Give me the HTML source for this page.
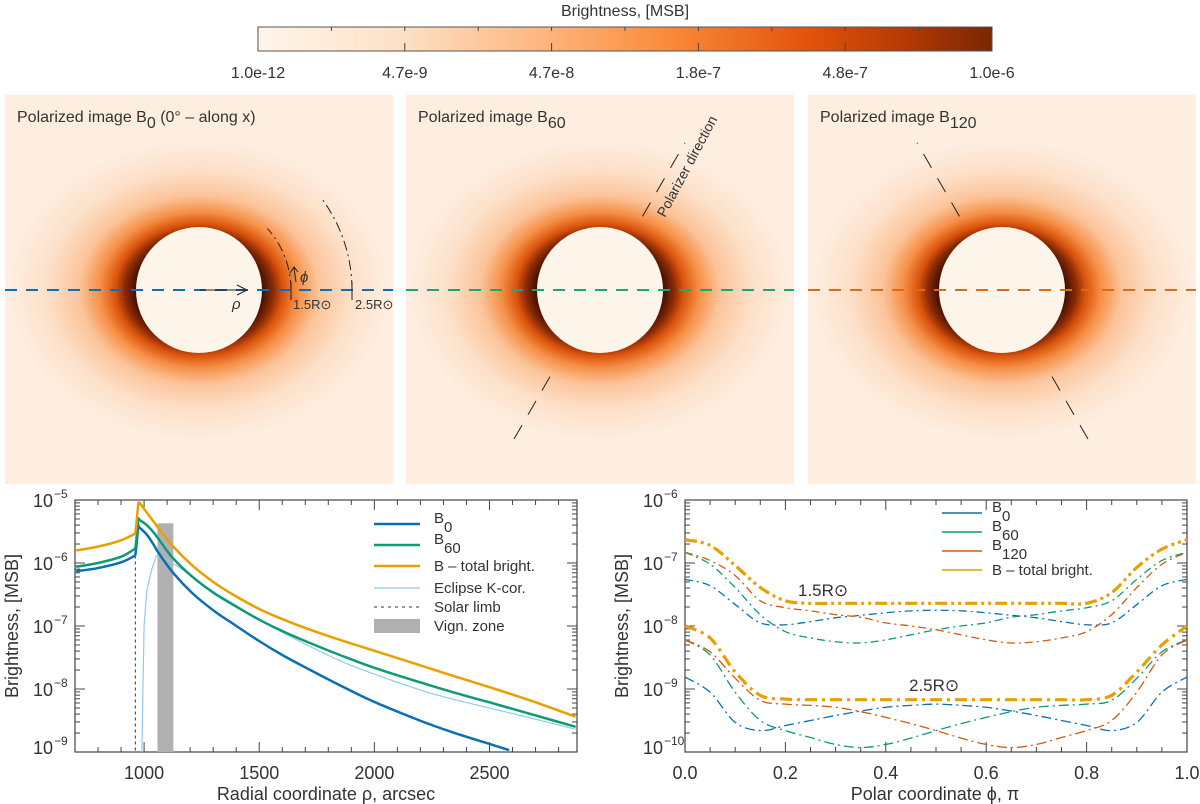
<!DOCTYPE html>
<html><head><meta charset="utf-8"><style>
body{margin:0;background:#fff;}
svg{display:block;font-family:"Liberation Sans",sans-serif;}
text{fill:#333;}
</style></head><body>
<svg id="fig" width="1200" height="804" viewBox="0 0 1200 804">
<defs>
<linearGradient id="cbar" x1="0" x2="1" y1="0" y2="0">
<stop offset="0" stop-color="#fff5eb"/><stop offset="0.2" stop-color="#fde0c5"/><stop offset="0.4" stop-color="#fdb27a"/>
<stop offset="0.55" stop-color="#fb8d3d"/><stop offset="0.75" stop-color="#e2530b"/><stop offset="0.88" stop-color="#b53a04"/><stop offset="1" stop-color="#7a2604"/>
</linearGradient>
<radialGradient id="cor" cx="0.5" cy="0.5" r="0.5">
<stop offset="0" stop-color="#4a1203"/><stop offset="0.34" stop-color="#4a1203"/><stop offset="0.39" stop-color="#8a2a05"/>
<stop offset="0.44" stop-color="#d9520c"/><stop offset="0.52" stop-color="#f68f45"/><stop offset="0.63" stop-color="#fbc49a"/>
<stop offset="0.8" stop-color="#fde0c8"/><stop offset="1" stop-color="#fdeee0"/>
</radialGradient>
<clipPath id="clipL"><rect x="75" y="500" width="502" height="252"/></clipPath>
<clipPath id="clipP0"><rect x="5" y="95" width="388" height="389"/></clipPath>
<clipPath id="clipP1"><rect x="406" y="95" width="388" height="389"/></clipPath>
<clipPath id="clipP2"><rect x="808" y="95" width="388" height="389"/></clipPath>
</defs>
<g id="topG"></g>
<g id="left"></g>
<g id="right"></g>
</svg>
<script>
// ---------- data ----------
const cbTicks=["1.0e-12","4.7e-9","4.7e-8","1.8e-7","4.8e-7","1.0e-6"];
const rhoX=[705,800,900,962,966,975,978,1012,1045,1061,1127,1210,1300,1376,1500,1600,1707,1850,1997,2204,2350,2498,2585,2700,2874];
const bTot=[-5.80,-5.74,-5.64,-5.53,-5.40,-5.05,-5.03,-5.20,-5.36,-5.44,-5.74,-6.04,-6.30,-6.48,-6.73,-6.89,-7.04,-7.22,-7.39,-7.63,-7.80,-7.97,-8.07,-8.21,-8.44];
const bSixty=[-6.06,-6.00,-5.90,-5.77,-5.65,-5.29,-5.31,-5.40,-5.53,-5.61,-5.93,-6.22,-6.47,-6.64,-6.90,-7.08,-7.25,-7.46,-7.66,-7.90,-8.06,-8.21,-8.30,-8.42,-8.60];
const bZero=[-6.13,-6.08,-5.99,-5.88,-5.75,-5.40,-5.43,-5.55,-5.73,-5.83,-6.16,-6.48,-6.75,-6.94,-7.24,-7.46,-7.67,-7.94,-8.20,-8.51,-8.70,-8.87,-8.97,null,null];
const eclRho=[990,995,1000,1012,1030,1045,1061,1127,1210,1300,1376,1500,1600,1707,1850,1997,2204,2350,2498,2700,2874];
const eclVal=[-9.1,-8.0,-7.0,-6.44,-6.15,-5.98,-5.88,-6.01,-6.22,-6.45,-6.62,-6.90,-7.10,-7.30,-7.55,-7.76,-8.02,-8.17,-8.30,-8.48,-8.64];
const limbRho=962;
const vignZone=[1058,1127,-5.37];
const xTicksL=[1000,1500,2000,2500];
const yTicksL=[-5,-6,-7,-8,-9];
const phi=[0,0.05,0.1,0.15,0.2,0.25,0.3,0.35,0.4,0.45,0.5,0.55,0.6,0.65,0.7,0.75,0.8,0.85,0.9,0.95,1];
const b0_15=[-7.26,-7.36,-7.66,-7.95,-7.98,-7.93,-7.87,-7.83,-7.79,-7.76,-7.75,-7.76,-7.79,-7.83,-7.87,-7.93,-7.98,-7.95,-7.66,-7.36,-7.26];
const b60_15=[-6.83,-7.02,-7.39,-7.82,-8.09,-8.19,-8.25,-8.27,-8.22,-8.14,-8.06,-8.00,-7.95,-7.86,-7.82,-7.76,-7.71,-7.60,-7.26,-6.96,-6.83];
const b120_15=[-6.83,-6.96,-7.20,-7.60,-7.71,-7.76,-7.82,-7.86,-7.95,-8.00,-8.06,-8.14,-8.22,-8.27,-8.25,-8.19,-8.09,-7.82,-7.39,-7.02,-6.83];
const bt_15=[-6.63,-6.72,-7.04,-7.39,-7.60,-7.64,-7.64,-7.64,-7.64,-7.64,-7.64,-7.64,-7.64,-7.64,-7.64,-7.64,-7.64,-7.47,-7.07,-6.78,-6.63];
const b0_25=[-8.81,-9.05,-9.53,-9.66,-9.58,-9.50,-9.42,-9.35,-9.29,-9.26,-9.24,-9.26,-9.29,-9.35,-9.42,-9.50,-9.58,-9.66,-9.53,-9.05,-8.81];
const b60_25=[-8.22,-8.46,-9.05,-9.50,-9.66,-9.77,-9.88,-9.93,-9.88,-9.78,-9.66,-9.55,-9.45,-9.36,-9.29,-9.26,-9.24,-9.18,-8.83,-8.41,-8.22];
const b120_25=[-8.22,-8.41,-8.83,-9.18,-9.24,-9.26,-9.29,-9.36,-9.45,-9.55,-9.66,-9.78,-9.88,-9.93,-9.88,-9.77,-9.66,-9.50,-9.05,-8.46,-8.22];
const bt_25=[-8.0,-8.19,-8.73,-9.10,-9.16,-9.17,-9.17,-9.17,-9.17,-9.17,-9.17,-9.17,-9.17,-9.17,-9.17,-9.17,-9.17,-9.10,-8.73,-8.30,-8.0];
const xTicksR=[0,0.2,0.4,0.6,0.8,1.0];
const yTicksR=[-6,-7,-8,-9,-10];

const NS="http://www.w3.org/2000/svg";
function mk(parent,tag,attrs,txt){const e=document.createElementNS(NS,tag);for(const k in attrs)e.setAttribute(k,attrs[k]);if(txt!==undefined)e.textContent=txt;parent.appendChild(e);return e;}
const C={blue:"#0a6fb5",green:"#0e9a74",red:"#d35a0c",orange:"#e8a000",lblue:"#8fcbee"};

// ---------- top ----------
const topG=document.getElementById('topG');
let el0=mk(topG,'text',{x:625,y:16,'font-size':16,'text-anchor':'middle'},'Brightness, [MSB]');


el0=mk(topG,'rect',{x:258,y:27,width:734,height:24,fill:'url(#cbar)',stroke:'#555','stroke-width':1});


for(let i=0;i<=10;i++){const x=258+734*i/10;mk(topG,'line',{x1:x,x2:x,y1:27,y2:31,stroke:'#444'});if(i%2==0&&i>0&&i<10)mk(topG,'line',{x1:x,x2:x,y1:43,y2:51,stroke:'#444'});}
cbTicks.forEach((t,i)=>{const el=mk(topG,'text',{x:258+734*i/5,y:78,'font-size':16,'text-anchor':'middle'},t);

});
const panels=[{x:5,cx:199,title:'0',extra:' (0° – along x)',col:C.blue,ang:null},{x:406,cx:600,title:'60',extra:'',col:'#1aa57a',ang:60},{x:808,cx:1002,title:'120',extra:'',col:'#e06a10',ang:120}];
panels.forEach((p,i)=>{
 const g=mk(topG,'g',{'clip-path':'url(#clipP'+i+')'});
 
 
 mk(g,'rect',{x:p.x,y:95,width:388,height:389,fill:'#fdeee0'});
 mk(g,'ellipse',{cx:p.cx,cy:290,rx:190,ry:150,fill:'url(#cor)'});
 mk(g,'circle',{cx:p.cx,cy:290,r:63,fill:'#fdf4ea'});
 const t=mk(g,'text',{x:p.x+12,y:122,'font-size':16},'Polarized image B');
 mk(t,'tspan',{dy:6,'font-size':16},p.title);
 if(p.extra)mk(t,'tspan',{dy:-6},p.extra);
 const l=mk(g,'line',{x1:p.x,x2:p.x+388,y1:290,y2:290,stroke:p.col,'stroke-width':2,'stroke-dasharray':'12,9'});
 
 
 if(p.ang){const a=p.ang*Math.PI/180,dx=Math.cos(a),dy=-Math.sin(a);
  [[85,170],[-100,-180]].forEach(r=>{mk(g,'line',{x1:p.cx+dx*r[0],y1:290+dy*r[0],x2:p.cx+dx*r[1],y2:290+dy*r[1],stroke:'#222','stroke-width':1,'stroke-dasharray':'16,12'});});
  if(p.ang==60){const tt=mk(g,'text',{x:0,y:0,'font-size':14,transform:'translate(665,218) rotate(-62)'},'Polarizer direction');
   
   }
 }
});
{const g=mk(topG,'g',{});
 
 
 const cx=199,cy=290;
 [[92,42],[153,37]].forEach(r=>{const a=r[1]*Math.PI/180;mk(g,'path',{d:`M${cx+r[0]},${cy} A${r[0]},${r[0]} 0 0 0 ${cx+r[0]*Math.cos(a)},${cy-r[0]*Math.sin(a)}`,fill:'none',stroke:'#222','stroke-dasharray':'10,4,2,4'});
 mk(g,'line',{x1:cx+r[0],x2:cx+r[0],y1:cy-8,y2:cy+10,stroke:'#222'});});
 mk(g,'line',{x1:200,y1:290,x2:245,y2:290,stroke:'#222'});
 mk(g,'path',{d:'M237,285 L247,290 L237,295',fill:'none',stroke:'#222'});
 mk(g,'text',{x:232,y:309,'font-size':15,'font-style':'italic'},'ρ');
 mk(g,'path',{d:'M296,282 L294,268 M290,273 L294,267 L298,272',fill:'none',stroke:'#222'});
 mk(g,'text',{x:300,y:282,'font-size':15,'font-style':'italic'},'ϕ');
 mk(g,'text',{x:293,y:309,'font-size':13},'1.5R⊙');
 mk(g,'text',{x:355,y:309,'font-size':13},'2.5R⊙');
}

// ---------- axes helper ----------
function axes(g,X0,X1,Y0,Y1,xmin,xmax,ymin,ymax,xMaj,xMin){
 const sx=v=>X0+(v-xmin)/(xmax-xmin)*(X1-X0);
 const sy=v=>Y1-(v-ymin)/(ymax-ymin)*(Y1-Y0);
 mk(g,'rect',{x:X0,y:Y0,width:X1-X0,height:Y1-Y0,fill:'none',stroke:'#444','stroke-width':1.2});
 const start=Math.ceil(xmin/xMin)*xMin;
 for(let v=start;v<=xmax+1e-9;v+=xMin){const x=sx(v);const maj=Math.abs(v/xMaj-Math.round(v/xMaj))<1e-6;const L=maj?10:5;
  mk(g,'line',{x1:x,x2:x,y1:Y1,y2:Y1-L,stroke:'#444'});mk(g,'line',{x1:x,x2:x,y1:Y0,y2:Y0+L,stroke:'#444'});}
 for(let d=Math.floor(ymin);d<Math.ceil(ymax)+1;d++){for(let m=1;m<10;m++){const v=d+Math.log10(m);if(v<ymin-1e-9||v>ymax+1e-9)continue;const y=sy(v);const L=m==1?10:5;
  mk(g,'line',{x1:X0,x2:X0+L,y1:y,y2:y,stroke:'#444'});mk(g,'line',{x1:X1,x2:X1-L,y1:y,y2:y,stroke:'#444'});}}
 return {sx,sy};
}
function ylabel(g,sy,X0,vals,ymin){vals.forEach(v=>{let y=sy(v)+7;if(Math.abs(v-ymin)<1e-6)y-=5;
 const t=mk(g,'text',{x:X0-22,y:y,'font-size':18,'text-anchor':'end'},'10');
 
 
 mk(g,'text',{x:X0-21,y:y-9,'font-size':12},'−'+(-v));});}
function smooth(pts){let d='M'+pts[0][0]+','+pts[0][1];for(let i=0;i<pts.length-1;i++){const p0=pts[i-1]||pts[i],p1=pts[i],p2=pts[i+1],p3=pts[i+2]||p2;
 d+=` C${p1[0]+(p2[0]-p0[0])/6},${p1[1]+(p2[1]-p0[1])/6} ${p2[0]-(p3[0]-p1[0])/6},${p2[1]-(p3[1]-p1[1])/6} ${p2[0]},${p2[1]}`;}return d;}

// ---------- left chart ----------
{const g=document.getElementById('left');
 
 
 const X0=75,X1=577,Y0=500,Y1=752;
 const {sx,sy}=axes(g,X0,X1,Y0,Y1,700,2880,-9,-5,500,100);
 const v=mk(g,'rect',{x:sx(vignZone[0]),y:sy(vignZone[2]),width:sx(vignZone[1])-sx(vignZone[0]),height:Y1-sy(vignZone[2]),fill:'#b0b0b0'});
 
 
 const lim=mk(g,'line',{x1:sx(limbRho),x2:sx(limbRho),y1:sy(bZero[3]),y2:Y1,stroke:'#333','stroke-dasharray':'3,3'});
 
 
 const cg=mk(g,'g',{'clip-path':'url(#clipL)'});
 function line(xs,ys,col,w,name,splitX){const pts=[];xs.forEach((x,i)=>{if(ys[i]!==null)pts.push([sx(x),sy(ys[i]),x]);});
  const a=pts.filter(q=>q[2]<=splitX[0]),b=pts.filter(q=>q[2]>=splitX[1]);
  let d='';
  if(a.length>1)d+=smooth(a);
  const mid=pts.filter(q=>q[2]>=splitX[0]&&q[2]<=splitX[1]);
  if(mid.length>1)d+=' M'+mid.map(q=>q[0]+','+q[1]).join(' L');
  if(b.length>1)d+=' '+smooth(b);
  const p=mk(cg,'path',{d:d,fill:'none',stroke:col,'stroke-width':w,'stroke-linejoin':'round'});
  
  }
 line(eclRho,eclVal,C.lblue,1.2,'eclipse-kcor-line',[0,1012]);
 line(rhoX,bZero,C.blue,2.5,'b0-line',[962,978]);
 line(rhoX,bSixty,C.green,2.5,'b60-line',[962,978]);
 line(rhoX,bTot,C.orange,2.5,'btotal-line',[962,978]);
 xTicksL.forEach(t=>{const el=mk(g,'text',{x:sx(t),y:779,'font-size':18,'text-anchor':'middle'},t);
  
  });
 ylabel(g,sy,X0,yTicksL,-9);
 let t=mk(g,'text',{x:326,y:800,'font-size':18,'text-anchor':'middle'},'Radial coordinate ρ, arcsec');
 
 
 t=mk(g,'text',{x:0,y:0,'font-size':18,'text-anchor':'middle',transform:'translate(18,626) rotate(-90)'},'Brightness, [MSB]');
 
 
 const leg=[['B','0',C.blue,2.5,524],['B','60',C.green,2.5,545],['B – total bright.','',C.orange,2.5,566],['Eclipse K-cor.','',C.lblue,1.2,588],['Solar limb','',null,0,607],['Vign. zone','',null,0,626]];
 leg.forEach((L,i)=>{const lg=mk(g,'g',{});
  
  
  if(i==4)mk(lg,'line',{x1:374,x2:420,y1:L[4],y2:L[4],stroke:'#333','stroke-dasharray':'3,4'});
  else if(i==5)mk(lg,'rect',{x:374,y:L[4]-7,width:46,height:14,fill:'#b0b0b0'});
  else mk(lg,'line',{x1:374,x2:420,y1:L[4],y2:L[4],stroke:L[2],'stroke-width':L[3]});
  const tx=mk(lg,'text',{x:434,y:L[4]+(L[1]?-1:5),'font-size':15},L[0]);
  if(L[1])mk(tx,'tspan',{dy:9},L[1]);});
}

// ---------- right chart ----------
{const g=document.getElementById('right');
 
 
 const X0=685,X1=1187,Y0=500,Y1=752;
 const {sx,sy}=axes(g,X0,X1,Y0,Y1,0,1,-10,-6,0.2,0.05);
 const ser=[[b0_15,C.blue,1.3,'8,4,2,4','b0-1.5r'],[b60_15,C.green,1.3,'8,4,2,4','b60-1.5r'],[b120_15,C.red,1.3,'8,4,2,4','b120-1.5r'],[bt_15,C.orange,3.2,'12,4,3,4,3,4','btotal-1.5r'],
  [b0_25,C.blue,1.3,'10,4,2,4','b0-2.5r'],[b60_25,C.green,1.3,'10,4,2,4','b60-2.5r'],[b120_25,C.red,1.3,'10,4,2,4','b120-2.5r'],[bt_25,C.orange,3.2,'12,5,3,5','btotal-2.5r']];
 ser.forEach(s=>{const pts=phi.map((p,i)=>[sx(p),sy(s[0][i])]);
  const el=mk(g,'path',{d:smooth(pts),fill:'none',stroke:s[1],'stroke-width':s[2],'stroke-dasharray':s[3]});
  
  });
 xTicksR.forEach(t=>{const el=mk(g,'text',{x:sx(t),y:779,'font-size':18,'text-anchor':'middle'},t.toFixed(1));
  
  });
 ylabel(g,sy,X0,yTicksR,-10);
 let t=mk(g,'text',{x:935,y:800,'font-size':18,'text-anchor':'middle'},'Polar coordinate ϕ, π');
 
 
 t=mk(g,'text',{x:0,y:0,'font-size':18,'text-anchor':'middle',transform:'translate(628,626) rotate(-90)'},'Brightness, [MSB]');
 
 
 t=mk(g,'text',{x:798,y:596,'font-size':17},'1.5R⊙');
 
 
 t=mk(g,'text',{x:909,y:691,'font-size':17},'2.5R⊙');
 
 
 const leg=[['B','0',C.blue,513],['B','60',C.green,532],['B','120',C.red,551],['B – total bright.','',C.orange,570]];
 leg.forEach(L=>{const lg=mk(g,'g',{});
  
  
  mk(lg,'line',{x1:942,x2:982,y1:L[3],y2:L[3],stroke:L[2],'stroke-width':1.5});
  const tx=mk(lg,'text',{x:992,y:L[3]+(L[1]?-1:5),'font-size':15},L[0]);
  if(L[1])mk(tx,'tspan',{dy:9},L[1]);});
}
</script>
</body></html>
